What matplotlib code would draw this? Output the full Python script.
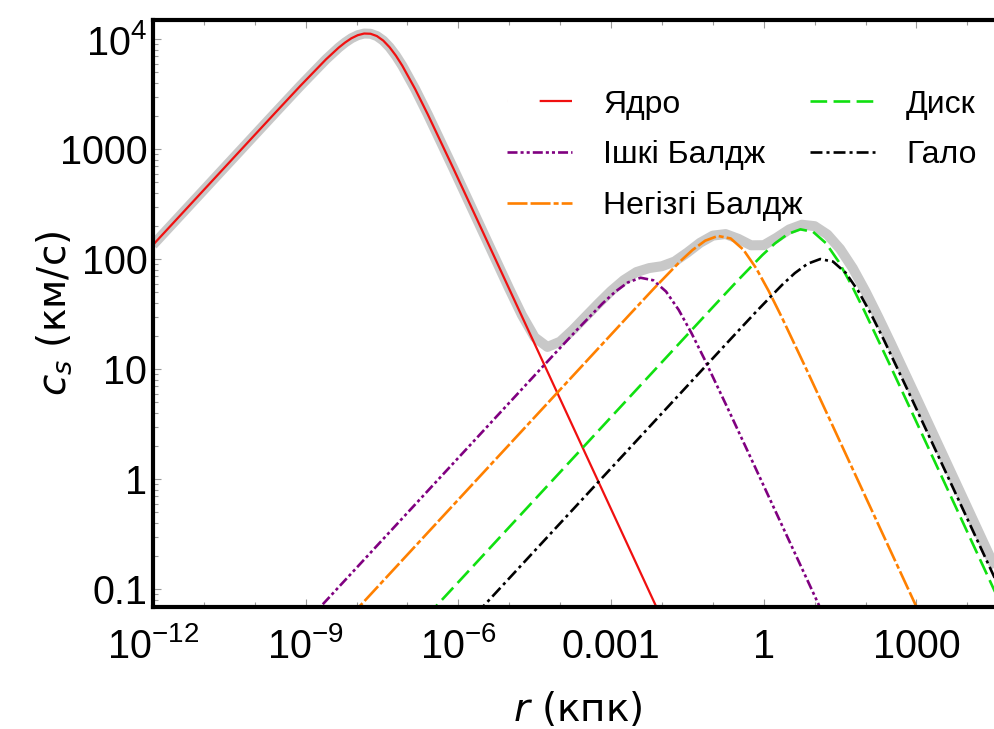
import numpy as np
import matplotlib
matplotlib.use("Agg")
import matplotlib.pyplot as plt
from matplotlib.lines import Line2D
from matplotlib.ticker import FixedLocator, FixedFormatter, NullFormatter

# log10 r (kpc) and log10 c_s (km/s) along each mass component
log_r_core = [-12.0, -9.6, -9.1, -8.6, -8.35, -8.225, -8.1, -7.975, -7.85, -7.725,
              -7.6, -7.475, -7.35, -7.225, -7.1, -6.85, -6.6, -6.1, -5.6, -2.0]
log_cs_core = [2.13, 3.33, 3.578, 3.817, 3.924, 3.97, 4.009, 4.037, 4.052, 4.05,
               4.029, 3.988, 3.927, 3.85, 3.759, 3.549, 3.317, 2.828, 2.33, -1.27]

log_r_inner = [-9.0, -4.17, -3.67, -3.17, -2.92, -2.67, -2.42, -2.17, -1.92, -1.67,
               -1.42, -1.17, -0.67, -0.17, 1.23]
log_cs_inner = [-1.305, 1.11, 1.358, 1.597, 1.704, 1.789, 1.832, 1.809, 1.707, 1.539,
                1.329, 1.097, 0.608, 0.11, -1.29]

log_r_main = [-8.15, -2.65, -2.15, -1.65, -1.4, -1.15, -0.9, -0.65, -0.4, -0.15,
              0.1, 0.35, 0.85, 1.35, 3.1]
log_cs_main = [-1.26, 1.49, 1.738, 1.977, 2.084, 2.169, 2.212, 2.189, 2.087, 1.919,
               1.709, 1.477, 0.988, 0.49, -1.26]

log_r_disk = [-6.63, -1.03, -0.53, -0.03, 0.22, 0.47, 0.72, 0.97, 1.22, 1.47,
              1.72, 1.97, 2.47, 2.97, 4.77]
log_cs_disk = [-1.25, 1.55, 1.798, 2.037, 2.144, 2.229, 2.272, 2.249, 2.147, 1.979,
               1.769, 1.537, 1.048, 0.55, -1.25]

log_r_halo = [-5.64, -0.64, -0.14, 0.36, 0.61, 0.86, 1.11, 1.36, 1.61, 1.86,
              2.11, 2.36, 2.86, 3.36, 4.86]
log_cs_halo = [-1.22, 1.28, 1.528, 1.767, 1.874, 1.959, 2.002, 1.979, 1.877, 1.709,
               1.499, 1.267, 0.778, 0.28, -1.22]

# total profile (all components combined)
log_r_total = [-12.0, -9.6, -9.1, -8.6, -8.35, -8.225, -8.1, -7.975, -7.85, -7.725,
               -7.6, -7.475, -7.35, -7.225, -7.1, -6.85, -6.6, -6.1, -5.6, -5.0,
               -4.75, -4.5, -4.25, -4.0, -3.75, -3.5, -3.25, -3.0, -2.75, -2.5,
               -2.25, -2.0, -1.75, -1.5, -1.25, -1.0, -0.75, -0.5, -0.25, 0.0,
               0.25, 0.5, 0.75, 1.0, 1.25, 1.5, 1.75, 2.0, 2.25, 2.5,
               3.0, 3.5, 4.0, 4.5, 4.75]
log_cs_total = [2.13, 3.33, 3.578, 3.817, 3.924, 3.97, 4.009, 4.037, 4.052, 4.05,
                4.029, 3.988, 3.927, 3.85, 3.759, 3.549, 3.317, 2.828, 2.33, 1.732,
                1.492, 1.29, 1.203, 1.251, 1.358, 1.478, 1.597, 1.711, 1.81, 1.884,
                1.92, 1.937, 1.98, 2.061, 2.15, 2.215, 2.229, 2.186, 2.127, 2.128,
                2.195, 2.271, 2.314, 2.301, 2.225, 2.094, 1.918, 1.706, 1.474, 1.233,
                0.738, 0.239, -0.26, -0.76, -1.01]

labels = ["Ядро", "Ішкі Балдж", "Негізгі Балдж", "Диск", "Гало"]
x_tick_labels = ["$10^{-12}$", "$10^{-9}$", "$10^{-6}$", "0.001", "1", "1000"]
y_tick_labels = ["0.1", "1", "10", "100", "1000", "$10^{4}$"]

plt.rcParams.update({
    "font.family": ["Liberation Sans", "DejaVu Sans"],
    "mathtext.fontset": "custom",
    "mathtext.rm": "Liberation Sans",
    "mathtext.it": "DejaVu Sans:italic",
    "mathtext.bf": "Liberation Sans:bold",
    "lines.scale_dashes": False,
})

W, H = 995, 729
fig = plt.figure(figsize=(W / 100, H / 100), dpi=100)
ax_l, ax_r, ax_t, ax_b = 152.9, 1003.0, 20.0, 607.0
ax = fig.add_axes([ax_l / W, (H - ax_b) / H, (ax_r - ax_l) / W, (ax_b - ax_t) / H])
ax.set_xscale("log")
ax.set_yscale("log")


def pw(a):
    return 10.0 ** np.asarray(a)


ax.plot(pw(log_r_total), pw(log_cs_total), color="#c8c8c8", lw=7.2,
        solid_capstyle="butt", solid_joinstyle="round", zorder=1)

styles = [
    dict(color="#f01010", lw=1.6, ls="-"),
    dict(color="#800080", lw=1.9, ls=(0, (7.2, 2.2, 2.2, 2.2, 2.2, 2.2))),
    dict(color="#ff8000", lw=1.9, ls=(0, (14.4, 2.2, 14.4, 2.2, 3.6, 2.2))),
    dict(color="#10e010", lw=1.9, ls=(0, (12.0, 4.6))),
    dict(color="#000000", lw=1.9, ls=(0, (8.6, 2.9, 2.2, 2.9))),
]
series = [(log_r_core, log_cs_core), (log_r_inner, log_cs_inner),
          (log_r_main, log_cs_main), (log_r_disk, log_cs_disk),
          (log_r_halo, log_cs_halo)]
handles = []
for (lr, lc), st, lab in zip(series, styles, labels):
    ln, = ax.plot(pw(lr), pw(lc), color=st["color"], lw=st["lw"], ls=st["ls"],
                  solid_joinstyle="round", label=lab, zorder=2)
    handles.append(ln)

# the core entry in the key starts part-way along its handle
handles[0] = Line2D([], [], color=styles[0]["color"], lw=styles[0]["lw"],
                    ls=(0, (0.01, 23.5, 300, 1)))

ax.set_xlim(1e-12, 10 ** 4.70)
ax.set_ylim(10 ** -1.161, 10 ** 4.175)

ax.xaxis.set_major_locator(FixedLocator(10.0 ** np.arange(-12, 5, 3)))
ax.xaxis.set_major_formatter(FixedFormatter(x_tick_labels))
ax.xaxis.set_minor_locator(FixedLocator(10.0 ** np.arange(-12, 6)))
ax.xaxis.set_minor_formatter(NullFormatter())
ax.yaxis.set_major_locator(FixedLocator(10.0 ** np.arange(-1, 5)))
ax.yaxis.set_major_formatter(FixedFormatter(y_tick_labels))
ax.yaxis.set_minor_locator(FixedLocator(
    [m * 10.0 ** e for e in range(-2, 5) for m in range(2, 10)]))
ax.yaxis.set_minor_formatter(NullFormatter())

ax.tick_params(which="both", direction="in", top=True, right=True,
               color="#9a9a9a", width=0.8, labelsize=28.5)
ax.tick_params(which="major", length=6)
ax.tick_params(which="minor", length=3.5)
ax.tick_params(axis="x", which="major", pad=36.5)
ax.tick_params(axis="y", which="major", pad=4)
for t in ax.get_xticklabels():
    t.set_verticalalignment("baseline")

for sp in ax.spines.values():
    sp.set_linewidth(3.0)
    sp.set_color("black")

ax.set_xlabel("$r$ (кпк)", fontsize=28, family="DejaVu Sans")
ax.xaxis.set_label_coords(0.5, -0.141)
ax.set_ylabel("$c_s$ (км/с)", fontsize=28, family="DejaVu Sans")
ax.yaxis.set_label_coords(-0.093, 0.5)

ax.legend(handles, labels, ncol=2, frameon=False, fontsize=23,
          loc="upper left", bbox_to_anchor=(507 / W, (H - 89.5) / H),
          bbox_transform=fig.transFigure, borderpad=0, borderaxespad=0,
          handlelength=2.04, handletextpad=0.97, columnspacing=0.22,
          labelspacing=0.65)

fig.savefig("out.png", dpi=100)
